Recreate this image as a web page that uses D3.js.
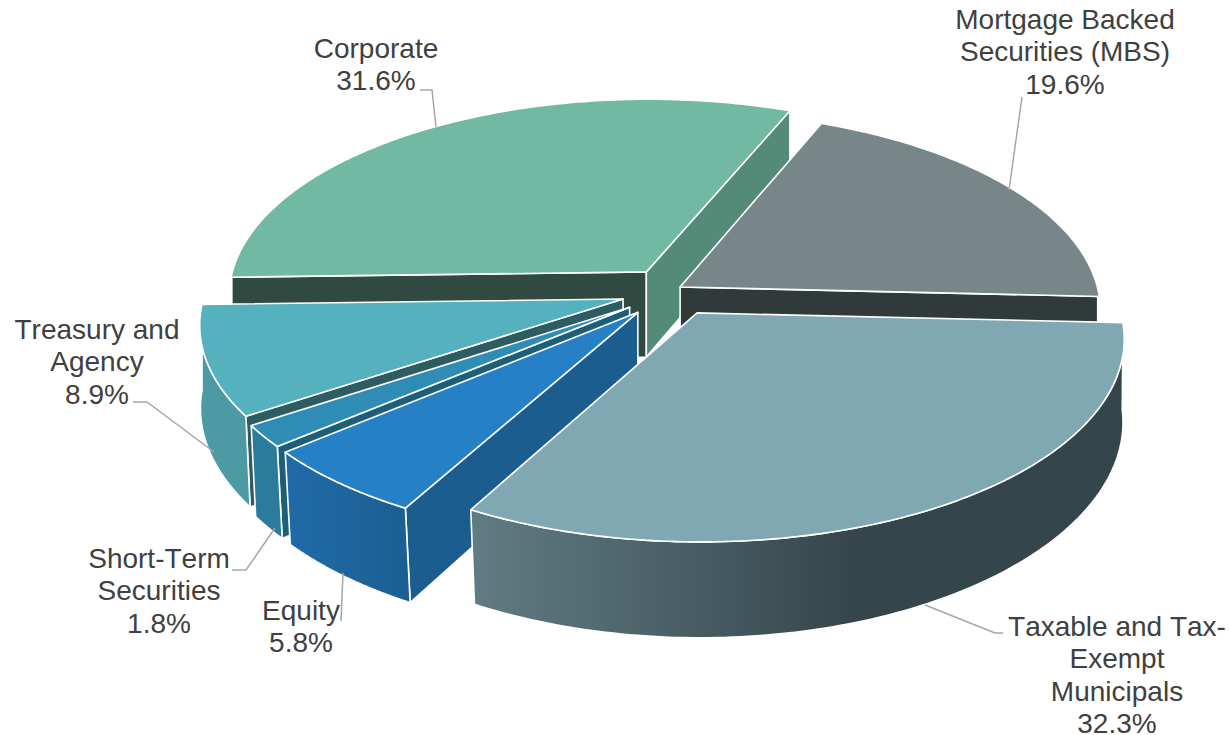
<!DOCTYPE html>
<html lang="en">
<head>
    <meta charset="UTF-8">
    <title>Portfolio allocation</title>
    <script src="https://cdn.jsdelivr.net/npm/d3@7/dist/d3.min.js"></script>
    <style>
        html, body { margin: 0; padding: 0; background: #fff; }
        svg { display: block; }
        .label { font-family: "Liberation Sans", Arial, sans-serif; font-size: 28px; font-kerning: none; fill: #404040; text-anchor: middle; }
        .leader { fill: none; stroke: #a6a6a6; stroke-width: 1.5; }
        .face { stroke: #fff; stroke-width: 1.6; stroke-linejoin: round; }
    </style>
</head>
<body>
<svg id="main-svg" width="1230" height="735" xmlns="http://www.w3.org/2000/svg"></svg>

<script>
    'use strict';
    // clockwise from the MBS slice
    const categories = [
        ['Mortgage Backed', 'Securities (MBS)'],
        ['Taxable and Tax-', 'Exempt', 'Municipals'],
        ['Equity'],
        ['Short-Term', 'Securities'],
        ['Treasury and', 'Agency'],
        ['Corporate']
    ];
    const shares = [19.6, 32.3, 5.8, 1.8, 8.9, 31.6];
    const explode = [12, 55, 50, 50, 49, 42];
    const explodeDrop = [0, 0, 4, 3, 2, -2];

    const topColors = ['#778789', '#80a8b3', '#2580c5', '#2f8db5', '#55b1bd', '#72b9a4'];
    const startCutColors = ['#778789', '#80a8b3', '#1a5d8e', '#1d5f78', '#2d5c62', '#304a42'];
    const endCutColors = ['#303a3a', '#33454b', '#1a5d8e', '#1d5f78', '#2d5c62', '#548a78'];
    const wallStops = [
        ['#303a3a', '#303a3a'],
        ['#617c84', '#34454b'],
        ['#1f6ba8', '#1b5f92'],
        ['#2b7c9c', '#2b7c9c'],
        ['#4b9aa4', '#4b9aa4'],
        ['#304a42', '#304a42']
    ];
    // back slices first, the big front one last
    const paintOrder = [5, 0, 4, 3, 2, 1];

    // label centre x, first baseline, leader polyline
    const labelX = [1065, 1117, 301, 159, 97, 376];
    const labelY = [29, 636, 620, 568, 339, 58];
    const leaders = [
        [[1009, 190], [1022, 97]],
        [[925, 605], [995, 633], [1003, 633]],
        [[343, 573], [341, 621]],
        [[275, 528], [246, 570], [232, 570]],
        [[214, 452], [147, 402], [133, 402]],
        [[436, 127], [432, 90], [420, 90]]
    ];
    const lineHeight = 32.3;

    const svg = d3.select('#main-svg');
    const defs = svg.append('defs');

    const R = 418;
    const cx = 670, cy = 290;
    const tilt = 0.47, persp = 0.117;

    const pie = d3.pie().sort(null)
        .startAngle(22.2 * Math.PI / 180)
        .endAngle((22.2 + 360) * Math.PI / 180);
    const arcs = pie(shares);

    // point on the top face: a = angle clockwise from north, r = distance from slice apex
    function topPoint(a, r, e, mid, drop) {
        const X = r * Math.sin(a) + e * Math.sin(mid);
        const Z = -r * Math.cos(a) - e * Math.cos(mid);
        const s = 1 / (1 - persp * Z / R);
        return [cx + X * s, cy + Z * tilt * s + drop];
    }
    // same point on the bottom face, the sides lean in more toward the front
    function bottomPoint(p) {
        const lean = Math.max(0, 0.003 + (p[1] - 340) * 0.00009);
        return [cx + (p[0] - cx) * (1 - lean), p[1] + 85 + 0.04 * (p[1] - 270)];
    }

    const line = d3.line();
    const closed = pts => line(pts) + 'Z';

    const wallFill = (i) => {
        const id = 'wall-' + i;
        const grad = defs.append('linearGradient').attr('id', id)
            .attr('gradientUnits', 'userSpaceOnUse')
            .attr('x1', i === 1 ? 470 : 285).attr('x2', i === 1 ? 860 : 410)
            .attr('y1', 0).attr('y2', 0);
        grad.append('stop').attr('offset', 0).attr('stop-color', wallStops[i][0]);
        grad.append('stop').attr('offset', 1).attr('stop-color', wallStops[i][1]);
        return 'url(#' + id + ')';
    };

    paintOrder.forEach(i => {
        const d = arcs[i];
        const mid = (d.startAngle + d.endAngle) / 2;
        const e = explode[i], drop = explodeDrop[i];
        const apex = topPoint(0, 0, e, mid, drop);
        const angles = d3.range(0, 121).map(k => d.startAngle + (d.endAngle - d.startAngle) * k / 120);
        const rim = angles.map(a => topPoint(a, R, e, mid, drop));
        const g = svg.append('g');

        // cut faces, only those turned to the viewer
        if (Math.sin(d.startAngle) < 0) {
            g.append('path').attr('class', 'face').attr('fill', startCutColors[i])
                .attr('d', closed([apex, rim[0], bottomPoint(rim[0]), bottomPoint(apex)]));
        }
        if (Math.sin(d.endAngle) > 0) {
            g.append('path').attr('class', 'face').attr('fill', endCutColors[i])
                .attr('d', closed([apex, rim[120], bottomPoint(rim[120]), bottomPoint(apex)]));
        }
        // outer wall, front half of the rim only
        const front = rim.filter((p, k) => Math.cos(angles[k]) < 0);
        if (front.length > 1) {
            g.append('path').attr('class', 'face').attr('fill', wallFill(i))
                .attr('d', closed(front.concat(front.map(bottomPoint).reverse())));
        }
        // top
        g.append('path').attr('class', 'face').attr('fill', topColors[i])
            .attr('d', closed([apex].concat(rim)));
    });

    // leader lines and labels
    const fmt = d3.format('.1f');
    categories.forEach((lines, i) => {
        svg.append('path').attr('class', 'leader').attr('d', line(leaders[i]));
        const text = svg.append('text').attr('class', 'label');
        lines.concat(fmt(shares[i]) + '%').forEach((t, j) => {
            text.append('tspan')
                .attr('x', labelX[i])
                .attr('y', labelY[i] + j * lineHeight)
                .text(t);
        });
    });
</script>
</body>
</html>
